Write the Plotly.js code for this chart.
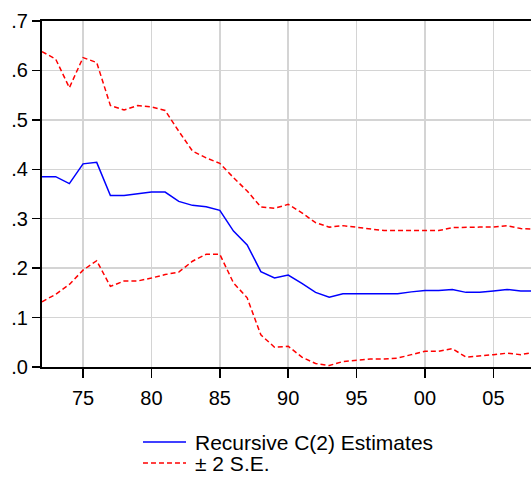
<!DOCTYPE html>
<html>
<head>
<meta charset="utf-8">
<script src="https://cdn.plot.ly/plotly-3.0.1.min.js"></script>
<style>html,body{margin:0;padding:0;background:#fff;}#chart{width:531px;height:477px;}</style>
</head>
<body>
<div id="chart"></div>
<script>
var years = [1972,1973,1974,1975,1976,1977,1978,1979,1980,1981,1982,1983,1984,1985,1986,1987,1988,1989,1990,1991,1992,1993,1994,1995,1996,1997,1998,1999,2000,2001,2002,2003,2004,2005,2006,2007,2008];
var estimate = [0.385,0.385,0.371,0.411,0.414,0.347,0.347,0.350,0.354,0.354,0.335,0.327,0.324,0.317,0.275,0.247,0.193,0.180,0.186,0.169,0.151,0.141,0.148,0.148,0.148,0.148,0.148,0.152,0.155,0.155,0.157,0.151,0.151,0.154,0.157,0.154,0.154];
var upperBand = [0.638,0.623,0.565,0.626,0.616,0.529,0.520,0.529,0.526,0.519,0.477,0.437,0.423,0.412,0.383,0.356,0.324,0.321,0.329,0.312,0.292,0.283,0.286,0.283,0.279,0.276,0.276,0.276,0.276,0.276,0.282,0.283,0.283,0.283,0.286,0.280,0.279];
var lowerBand = [0.132,0.147,0.167,0.196,0.215,0.163,0.174,0.174,0.180,0.187,0.192,0.214,0.228,0.228,0.170,0.140,0.065,0.040,0.042,0.020,0.007,0.003,0.011,0.013,0.016,0.016,0.018,0.025,0.032,0.032,0.037,0.020,0.022,0.025,0.028,0.025,0.030];
var xTickVals = [1975,1980,1985,1990,1995,2000,2005];
var xTickText = ['75','80','85','90','95','00','05'];
var yTickVals = [0,0.1,0.2,0.3,0.4,0.5,0.6,0.7];
var yTickText = ['.0','.1','.2','.3','.4','.5','.6','.7'];
var seriesNames = ['Recursive C(2) Estimates', '± 2 S.E.'];
var seriesColors = ['#0000ff', '#ff0000'];
var seriesDash = ['solid', '5px,3px'];

var fontFamily = 'Arial, "Liberation Sans", sans-serif';
var font = {family: fontFamily, size: 20, color: '#000'};
var legendFont = {family: fontFamily, size: 21, color: '#000'};

var traces = [
  {x: years, y: estimate, type: 'scatter', mode: 'lines', name: seriesNames[0],
   line: {color: seriesColors[0], width: 1.5, dash: seriesDash[0]}},
  {x: years, y: upperBand, type: 'scatter', mode: 'lines', name: seriesNames[1],
   line: {color: seriesColors[1], width: 1.5, dash: seriesDash[1]}},
  {x: years, y: lowerBand, type: 'scatter', mode: 'lines', name: seriesNames[1],
   line: {color: seriesColors[1], width: 1.5, dash: seriesDash[1]}}
];

// Legend below the plot (drawn with paper-referenced shapes and text)
var legendRowsY = [-0.217, -0.2775];
var legendShapes = [], legendTexts = [];
for (var i = 0; i < seriesNames.length; i++) {
  legendShapes.push({type: 'line', xref: 'paper', yref: 'paper', x0: 0.2065, x1: 0.2945,
                     y0: legendRowsY[i], y1: legendRowsY[i],
                     line: {color: seriesColors[i], width: 1.5, dash: seriesDash[i]}});
  legendTexts.push({xref: 'paper', yref: 'paper', x: 0.3088, y: legendRowsY[i], xanchor: 'left', yanchor: 'middle',
                    text: seriesNames[i], showarrow: false, font: legendFont});
}

var layout = {
  width: 531, height: 477,
  margin: {l: 42, r: 0, t: 21, b: 110, pad: 0, autoexpand: false},
  paper_bgcolor: '#fff', plot_bgcolor: '#fff',
  font: font,
  showlegend: false,
  shapes: legendShapes,
  annotations: legendTexts,
  xaxis: {range: [1972, 2007.75], tickmode: 'array', tickvals: xTickVals, ticktext: xTickText,
          showgrid: true, gridcolor: '#d4d4d4', gridwidth: 1.5, zeroline: false,
          showline: true, linecolor: '#000', linewidth: 2, mirror: true,
          ticks: 'outside', ticklen: 9, tickwidth: 1.5, tickcolor: '#000', tickfont: font,
          ticklabelstandoff: 3, fixedrange: true},
  yaxis: {range: [0, 0.7], tickmode: 'array', tickvals: yTickVals, ticktext: yTickText,
          showgrid: true, gridcolor: '#d4d4d4', gridwidth: 1.5, zeroline: false,
          showline: true, linecolor: '#000', linewidth: 2,
          ticks: 'outside', ticklen: 8, tickwidth: 1.5, tickcolor: '#000', tickfont: font, fixedrange: true}
};

Plotly.newPlot('chart', traces, layout, {displayModeBar: false, staticPlot: true});
</script>
</body>
</html>
